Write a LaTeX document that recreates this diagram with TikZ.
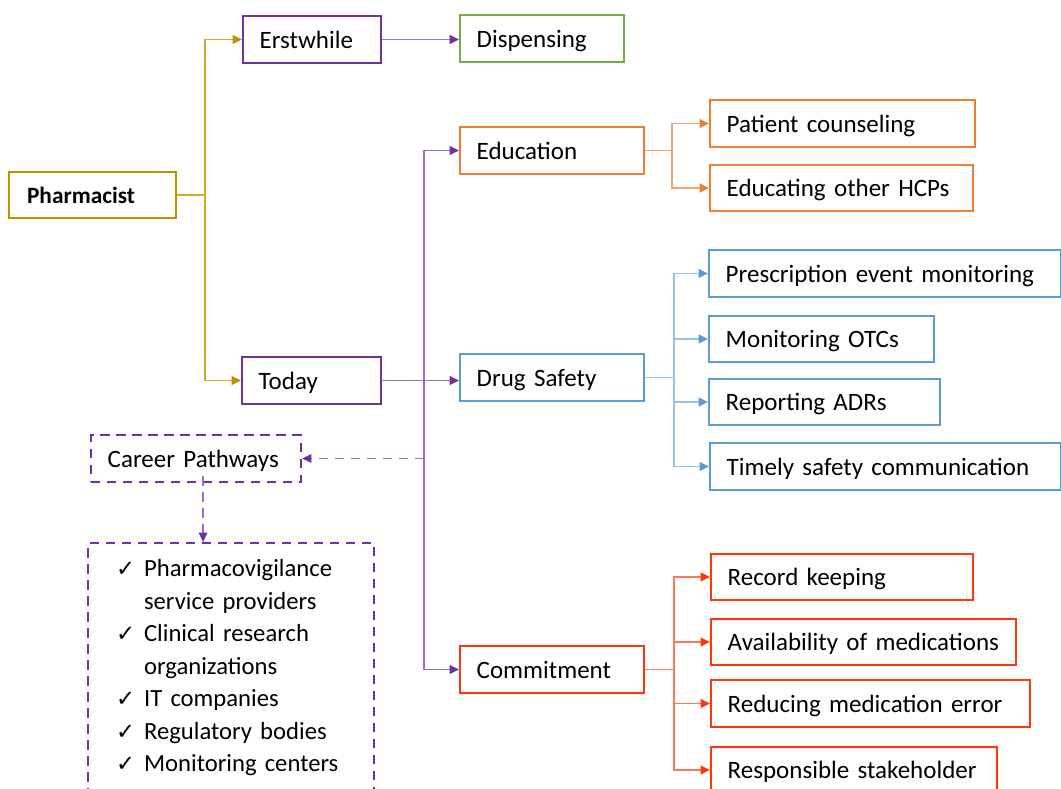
\documentclass[tikz,border=0pt]{standalone}
\usepackage{fontspec}
\setmainfont{Carlito}
\newfontfamily\symfont{DejaVu Sans}
\usetikzlibrary{arrows.meta,calc}

\definecolor{pgold}{RGB}{191,144,0}
\definecolor{pgoldl}{RGB}{212,168,40}
\definecolor{ppurple}{RGB}{112,48,160}
\definecolor{ppurplel}{RGB}{158,108,208}
\definecolor{pgreen}{RGB}{112,173,71}
\definecolor{porange}{RGB}{237,125,49}
\definecolor{porangel}{RGB}{245,162,112}
\definecolor{pblue}{RGB}{91,155,213}
\definecolor{pbluel}{RGB}{150,195,235}
\definecolor{pred}{RGB}{255,55,10}
\definecolor{predl}{RGB}{255,120,90}

\newcommand{\chk}{\makebox[21pt][l]{\symfont\fontsize{17}{17}\selectfont ✓}}

\tikzset{
  box/.style={draw=#1, line width=1.6pt, anchor=west, minimum height=35pt,
    inner xsep=12.5pt, inner ysep=2pt, align=left, text height=16pt,
    text depth=3pt, font=\fontsize{18.75}{24.4}\selectfont},
  dashbox/.style={box=#1, dash pattern=on 7pt off 5pt},
  listbox/.style={draw=#1, line width=1.6pt, dash pattern=on 7pt off 5pt,
    anchor=north west, inner xsep=21pt, inner ysep=8pt, text width=172.5pt,
    align=left, text depth=170pt, font=\fontsize{18.5}{24.4}\selectfont},
  link/.style 2 args={draw=#1, line width=1.2pt,
    -{Triangle[length=7pt,width=6.5pt,color=#2]}},
  dashlink/.style 2 args={link={#1}{#2}, dash pattern=on 7pt off 5pt},
}

\begin{document}
\begin{tikzpicture}[x=0.75pt,y=0.75pt,yscale=-1,xscale=1]
  \clip (0,0) rectangle (1061,789);

  % root and first level
  \node[box=pgold, text width=98.25pt, inner xsep=13.5pt, font=\fontsize{17.5}{21}\selectfont\bfseries] (ph) at (8,195) {Pharmacist};
  \node[box=ppurple, text width=78.5pt] (er) at (242,39.5) {Erstwhile};
  \node[box=pgreen, text width=98pt] (di) at (459,38.5) {Dispensing};
  \node[box=ppurple, text width=79.25pt] (to) at (241,380.5) {Today};

  % roles of today
  \node[box=porange, text width=113pt] (ed) at (459,150.5) {Education};
  \node[box=pblue, text width=113pt] (ds) at (459,377.5) {Drug Safety};
  \node[box=pred, text width=113pt] (cm) at (459,669.5) {Commitment};

  % education
  \node[box=porange, text width=173.75pt] (pc) at (709,123.5) {Patient counseling};
  \node[box=porange, text width=172.25pt] (eh) at (709,188) {Educating other HCPs};

  % drug safety
  \node[box=pblue, text width=239pt] (pe) at (708,273.5) {Prescription event monitoring};
  \node[box=pblue, text width=143.75pt] (mo) at (708,339) {Monitoring OTCs};
  \node[box=pblue, text width=148.25pt] (ra) at (708,402) {Reporting ADRs};
  \node[box=pblue, text width=238.25pt] (ts) at (709,466.5) {Timely safety communication};

  % commitment
  \node[box=pred, text width=171.5pt] (rk) at (710,577) {Record keeping};
  \node[box=pred, text width=203.75pt] (am) at (710,642) {\mbox{Availability of medications}};
  \node[box=pred, text width=214.25pt] (rm) at (710,703.5) {Reducing medication error};
  \node[box=pred, text width=189.5pt] (rs) at (710,770) {Responsible stakeholder};

  % career pathways
  \node[dashbox=ppurple, text width=132.5pt] (cp) at (90,458.5) {Career Pathways};
  \node[listbox=ppurple] (lst) at (87,542) {\begin{tabular}[t]{@{}l@{}l@{}}
    \chk & Pharmacovigilance\\
         & service providers\\
    \chk & Clinical research\\
         & organizations\\
    \chk & IT companies\\
    \chk & Regulatory bodies\\
    \chk & Monitoring centers
  \end{tabular}};

  % junctions
  \coordinate (gj) at ([xshift=21pt]ph.east);
  \coordinate (pj) at ($(to.east)!0.544!(to.east -| ds.west)$);
  \coordinate (oj) at ([xshift=20.25pt]ed.east);
  \coordinate (bj) at ([xshift=21.75pt]ds.east);
  \coordinate (rj) at ([xshift=21.75pt]cm.east);

  % connectors
  \draw[link={pgoldl}{pgold}] (ph.east) -- (gj) |- (er.west);
  \draw[link={pgoldl}{pgold}] (gj) |- (to.west);
  \draw[link={ppurplel}{ppurple}] (er.east) -- (er.east -| di.west);
  \draw[link={ppurplel}{ppurple}] (to.east) -- (to.east -| ds.west);
  \draw[link={ppurplel}{ppurple}] (pj) |- (ed.west);
  \draw[link={ppurplel}{ppurple}] (pj) |- (cm.west);
  \draw[dashlink={ppurplel}{ppurple}] (pj |- cp.east) -- (cp.east);
  \draw[dashlink={ppurplel}{ppurple}] ([xshift=5.25pt,yshift=-5pt]cp.south) -- ([xshift=5.25pt]cp.south |- lst.north);
  \foreach \n in {pc,eh}
    \draw[link={porangel}{porange}] (ed.east) -- (oj) |- (\n.west);
  \foreach \n in {pe,mo,ra,ts}
    \draw[link={pbluel}{pblue}] (ds.east) -- (bj) |- (\n.west);
  \foreach \n in {rk,am,rm,rs}
    \draw[link={predl}{pred}] (cm.east) -- (rj) |- (\n.west);
\end{tikzpicture}
\end{document}
